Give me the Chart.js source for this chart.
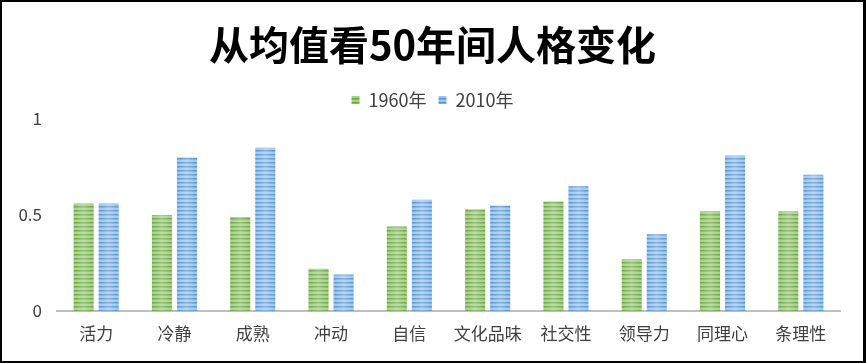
<!DOCTYPE html>
<html>
<head>
<meta charset="utf-8">
<script src="https://cdn.jsdelivr.net/npm/chart.js@4.4.0/dist/chart.umd.min.js"></script>
<style>
  html, body { margin: 0; padding: 0; background: #fff; }
  #wrap {
    position: absolute; left: 0; top: 0;
    width: 866px; height: 363px;
    box-sizing: border-box;
    border: 2px solid #000;
    border-right-width: 3px;
    background: #fff;
  }
  #chart { display: block; }
</style>
</head>
<body>
<div id="wrap"><canvas id="chart" width="861" height="359"></canvas></div>
<script>
const categories = ['活力', '冷静', '成熟', '冲动', '自信', '文化品味', '社交性', '领导力', '同理心', '条理性'];
const values1960 = [0.56, 0.50, 0.49, 0.22, 0.44, 0.53, 0.57, 0.27, 0.52, 0.52];
const values2010 = [0.56, 0.80, 0.85, 0.19, 0.58, 0.55, 0.65, 0.40, 0.81, 0.71];
const yTicks = [0, 0.5, 1];

const cjk = '"Noto Sans CJK SC", "Noto Sans", sans-serif';
const textColor = '#404040';

// striped fill like the Excel pattern
function stripes(dark, mid, light) {
    const c = document.createElement('canvas');
    c.width = 4; c.height = 4;
    const g = c.getContext('2d');
    g.fillStyle = light; g.fillRect(0, 0, 4, 4);
    g.fillStyle = dark; g.fillRect(0, 0, 4, 1);
    g.fillStyle = mid; g.fillRect(0, 1, 4, 1);
    return g.createPattern(c, 'repeat');
}

const green = stripes('#6aa840', '#86bd60', '#a6cf8b');
const blue = stripes('#5596d3', '#78ade0', '#a0c5ea');

// soft highlight down the middle of every bar
const barShine = {
    id: 'barShine',
    afterDatasetsDraw(chart) {
        const ctx = chart.ctx;
        chart.data.datasets.forEach(function (ds, i) {
            chart.getDatasetMeta(i).data.forEach(function (bar) {
                const p = bar.getProps(['x', 'y', 'base', 'width'], true);
                const l = p.x - p.width / 2;
                const gr = ctx.createLinearGradient(l, 0, l + p.width, 0);
                gr.addColorStop(0, 'rgba(255,255,255,0)');
                gr.addColorStop(0.5, 'rgba(255,255,255,0.28)');
                gr.addColorStop(1, 'rgba(255,255,255,0)');
                ctx.save();
                ctx.fillStyle = gr;
                ctx.fillRect(l, p.y, p.width, p.base - p.y);
                ctx.restore();
            });
        });
    }
};

new Chart(document.getElementById('chart'), {
    type: 'bar',
    data: {
        labels: categories,
        datasets: [{
            label: '1960年',
            data: values1960,
            backgroundColor: green,
            borderWidth: 0,
            categoryPercentage: 0.64,
            barPercentage: 0.8
        }, {
            label: '2010年',
            data: values2010,
            backgroundColor: blue,
            borderWidth: 0,
            categoryPercentage: 0.64,
            barPercentage: 0.8
        }]
    },
    plugins: [barShine],
    options: {
        responsive: false,
        animation: false,
        layout: { padding: 0 },
        plugins: {
            title: {
                display: true,
                text: '从均值看50年间人格变化',
                color: '#000',
                font: { family: cjk, size: 40, weight: 'bold' },
                padding: { top: 19, bottom: 10 }
            },
            legend: {
                display: true,
                position: 'top',
                labels: {
                    color: textColor,
                    font: { family: cjk, size: 18 },
                    boxWidth: 8,
                    boxHeight: 8,
                    padding: 12
                }
            },
            tooltip: { enabled: false }
        },
        scales: {
            x: {
                grid: { display: false, drawTicks: false },
                border: { display: true, color: '#bfbfbf', width: 2 },
                ticks: { color: textColor, font: { family: cjk, size: 17 }, padding: 12 },
                afterFit: function (axis) { axis.height = 50; }
            },
            y: {
                min: 0,
                max: 1,
                afterBuildTicks: function (axis) {
                    axis.ticks = yTicks.map(function (v) { return { value: v }; });
                },
                grid: { display: false, drawTicks: false },
                border: { display: false },
                ticks: {
                    color: textColor,
                    font: { family: cjk, size: 17 },
                    padding: 15,
                    callback: function (value) { return String(value); }
                },
                afterFit: function (axis) { axis.width = 55; }
            },
            // empty right margin so title and legend stay centred on the page
            yRight: {
                position: 'right',
                min: 0,
                max: 1,
                grid: { display: false, drawTicks: false },
                border: { display: false },
                ticks: { display: false },
                afterFit: function (axis) { axis.width = 23; }
            }
        }
    }
});
</script>
</body>
</html>
